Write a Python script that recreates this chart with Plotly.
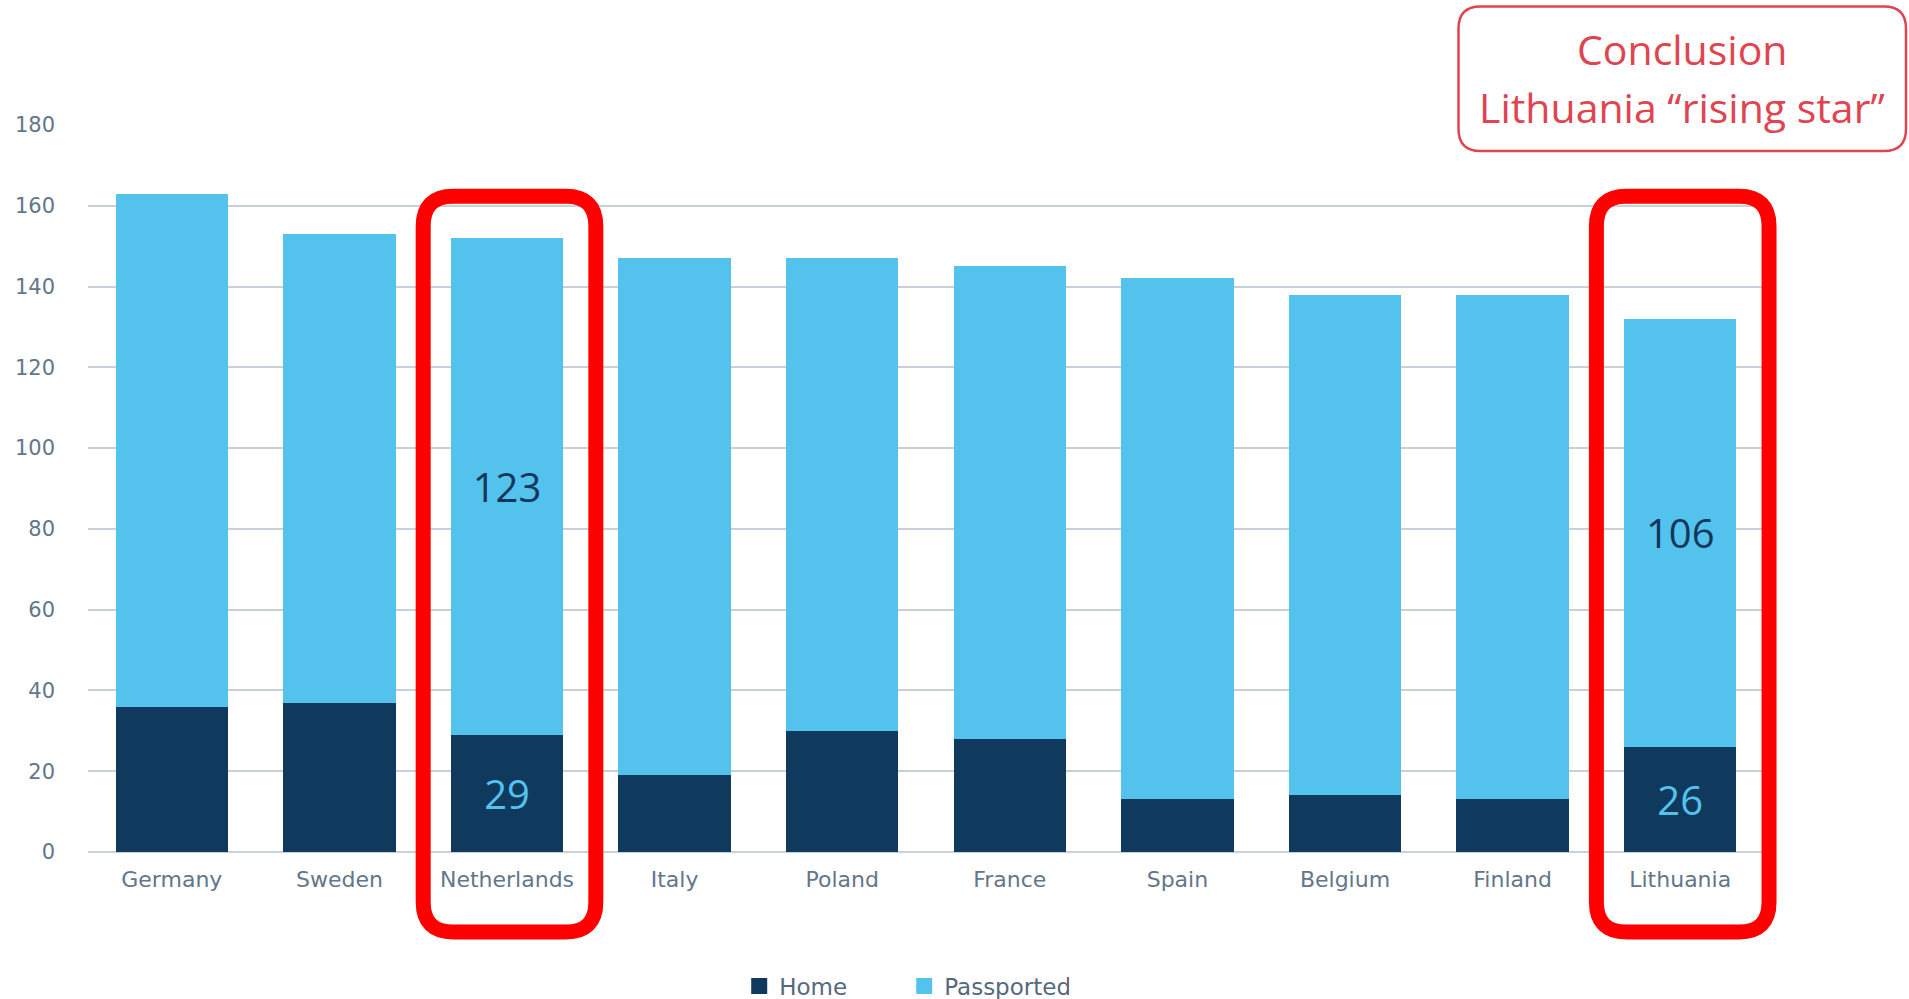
import plotly.graph_objects as go

# Data: ten countries, split into home and passported counts
countries = ["Germany", "Sweden", "Netherlands", "Italy", "Poland",
             "France", "Spain", "Belgium", "Finland", "Lithuania"]
home = [36, 37, 29, 19, 30, 28, 13, 14, 13, 26]
passported = [127, 116, 123, 128, 117, 117, 129, 124, 125, 106]
highlighted = ["Netherlands", "Lithuania"]
y_ticks = [0, 20, 40, 60, 80, 100, 120, 140, 160, 180]

NAVY = "#0f3a5d"
SKY = "#53c3ee"
RED = "#ff0000"
NOTE_RED = "#e0444f"
TICK_GREY = "#63768a"
GRID = "#c8d0da"

W, H = 1909, 999
M_L, M_R, M_T, M_B = 88, 145, 125, 147
PW, PH = W - M_L - M_R, H - M_T - M_B


def label_for(values):
    return [str(v) if c in highlighted else "" for c, v in zip(countries, values)]


def rounded_path(x0, x1, y_top, y_bot, r_px):
    """Rounded rectangle path in paper coordinates, radius given in pixels."""
    rx, ry = r_px / PW, r_px / PH
    return (f"M {x0 + rx},{y_top} L {x1 - rx},{y_top} Q {x1},{y_top} {x1},{y_top - ry} "
            f"L {x1},{y_bot + ry} Q {x1},{y_bot} {x1 - rx},{y_bot} "
            f"L {x0 + rx},{y_bot} Q {x0},{y_bot} {x0},{y_bot + ry} "
            f"L {x0},{y_top - ry} Q {x0},{y_top} {x0 + rx},{y_top} Z")


fig = go.Figure()

fig.add_trace(go.Bar(
    x=countries, y=home, name="Home", marker=dict(color=NAVY, line=dict(width=0)),
    text=label_for(home), textposition="inside", insidetextanchor="middle",
    textangle=0, constraintext="none",
    textfont=dict(family="Open Sans", size=40, color=SKY),
    showlegend=False, hoverinfo="x+y",
))
fig.add_trace(go.Bar(
    x=countries, y=passported, name="Passported", marker=dict(color=SKY, line=dict(width=0)),
    text=label_for(passported), textposition="inside", insidetextanchor="middle",
    textangle=0, constraintext="none",
    textfont=dict(family="Open Sans", size=40, color="#12375a"),
    showlegend=False, hoverinfo="x+y",
))

# Legend entries with larger square swatches
for name, color in [("Home", NAVY), ("Passported", SKY)]:
    fig.add_trace(go.Scatter(
        x=[None], y=[None], mode="markers", name=name,
        marker=dict(symbol="square", size=17, color=color),
        showlegend=True,
    ))

# Red frames around the highlighted countries
shapes = []
n = len(countries)
for c in highlighted:
    i = countries.index(c)
    x0 = (i + 0.5 - 0.5) / n
    x1 = (i + 0.5 + 0.53) / n
    shapes.append(dict(
        type="path", xref="paper", yref="paper",
        path=rounded_path(x0, x1, 0.902, -0.110, 30),
        line=dict(color=RED, width=15), fillcolor="rgba(0,0,0,0)", layer="above",
    ))

# Conclusion callout box
bx0, bx1 = (1458.5 - M_L) / PW, (1906 - M_L) / PW
by_top, by_bot = (M_T + PH - 6.5) / PH, (M_T + PH - 151) / PH
shapes.append(dict(
    type="path", xref="paper", yref="paper",
    path=rounded_path(bx0, bx1, by_top, by_bot, 22),
    line=dict(color=NOTE_RED, width=2.5), fillcolor="white", layer="above",
))

cx = (bx0 + bx1) / 2
annotations = [
    dict(text="Conclusion", xref="paper", yref="paper",
         x=cx, y=(M_T + PH - 49) / PH, xanchor="center", yanchor="middle",
         showarrow=False, font=dict(family="Open Sans", size=41, color=NOTE_RED)),
    dict(text="Lithuania “rising star”", xref="paper", yref="paper",
         x=cx, y=(M_T + PH - 107) / PH, xanchor="center", yanchor="middle",
         showarrow=False, font=dict(family="Open Sans", size=41, color=NOTE_RED)),
]

fig.update_layout(
    width=W, height=H,
    margin=dict(l=M_L, r=M_R, t=M_T, b=M_B, pad=0, autoexpand=False),
    paper_bgcolor="white", plot_bgcolor="white",
    barmode="stack", bargap=0.33,
    shapes=shapes, annotations=annotations,
    legend=dict(orientation="h", traceorder="normal",
                x=0.487, xanchor="center",
                y=-(986 - M_T - PH) / PH, yanchor="middle",
                font=dict(family="DejaVu Sans", size=23, color="#55697d"),
                entrywidth=120, entrywidthmode="pixels", bgcolor="rgba(0,0,0,0)"),
    xaxis=dict(
        type="category", range=[-0.5, n - 0.5],
        showgrid=False, showline=False, zeroline=False, ticks="",
        tickfont=dict(family="DejaVu Sans", size=22, color=TICK_GREY),
        ticklabelstandoff=12,
    ),
    yaxis=dict(
        range=[0, 180], tickvals=y_ticks, ticktext=[str(v) for v in y_ticks],
        showgrid=True, gridcolor=GRID, gridwidth=2,
        zeroline=True, zerolinecolor=GRID, zerolinewidth=2,
        showline=False, ticks="",
        tickfont=dict(family="DejaVu Sans", size=21, color=TICK_GREY),
        ticklabelstandoff=32,
    ),
    font=dict(family="DejaVu Sans"),
)

fig.write_html("out.html")
